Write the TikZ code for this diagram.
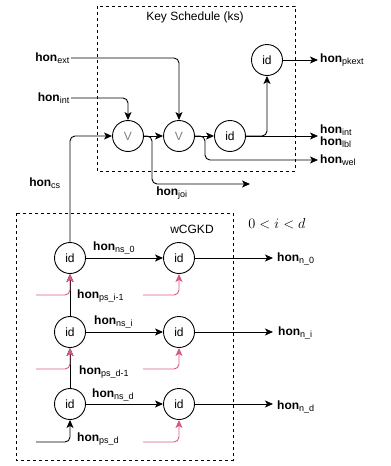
\documentclass[tikz,border=0pt]{standalone}
\usepackage{fontspec}
\setmainfont{Liberation Sans}
\usetikzlibrary{arrows.meta}
\definecolor{pinkline}{RGB}{214,88,138}
\newcommand\hon[1]{\textbf{hon}\textsubscript{\fontsize{9}{10}\selectfont #1}}
\begin{document}
\begin{tikzpicture}[x=1pt,y=-1pt,
  font=\fontsize{12}{14}\selectfont,
  op/.style={draw,circle,minimum size=31pt,inner sep=0pt,line width=0.9pt},
  conn/.style={line width=0.9pt,rounded corners=5pt},
  arr/.style={conn,-{Stealth[length=8pt,width=7pt,inset=2pt]}},
  parr/.style={arr,draw=pinkline,-{Stealth[length=8pt,width=7pt,inset=2pt,fill=pinkline]}},
  frame/.style={draw,line width=0.8pt,dash pattern=on 3pt off 3pt},
  lbl/.style={inner sep=1pt,align=left}]
\useasboundingbox (0,0) rectangle (391,466);
% frames
\draw[frame] (97,6) rectangle (295,171);
\draw[frame] (16,213) rectangle (233,460);
\node (kstitle) at (195,17) {Key Schedule (ks)};
\node (wtitle) at (192,229) {wCGKD};
\node (cond) at (277,224) {\fontsize{14.5}{16}\selectfont $0<i<d$};
% key schedule nodes
\node[op,text=gray] (V1) at (128,136) {V};
\node[op,text=gray] (V2) at (179,136) {V};
\node[op] (idA) at (230,136) {id};
\node[op] (idT) at (267,60) {id};
% input labels
\node[lbl,anchor=east] (ext) at (71,58) {\hon{ext}};
\node[lbl,anchor=east] (int) at (71,98) {\hon{int}};
\node[lbl] (cs) at (45,183) {\hon{cs}};
% outputs
\coordinate (pkEnd) at (318,60);
\coordinate (outEnd) at (318,136);
\coordinate (welEnd) at (318,160);
\coordinate (joiEnd) at (250,184);
\coordinate (j1) at (152,136);
\coordinate (j2) at (205,136);
\node[lbl,anchor=west] (pk) at (319,60) {\hon{pkext}};
\node[lbl,anchor=west] (intlbl) at (319,136) {\hon{int}\\[-2pt]\hon{lbl}};
\node[lbl,anchor=west] (wel) at (319,160) {\hon{wel}};
\node[lbl] (joi) at (172,193) {\hon{joi}};
% connectors in key schedule
\draw[arr] (ext.east) -| (V2.north);
\draw[arr] (int.east) -| (V1.north);
\draw[arr] (V1) -- (V2);
\draw[arr] (V1.east) -- (j1) |- (joiEnd);
\draw[arr] (V2) -- (idA);
\draw[arr] (V2.east) -- (j2) |- (welEnd);
\draw[arr] (idA) -- (outEnd);
\draw[arr] (idA.east) -| (idT.south);
\draw[arr] (idT) -- (pkEnd);
% wCGKD nodes
\node[op] (L0) at (70,258) {id};
\node[op] (R0) at (179,258) {id};
\node[op] (Li) at (70,332) {id};
\node[op] (Ri) at (179,332) {id};
\node[op] (Ld) at (70,404) {id};
\node[op] (Rd) at (179,404) {id};
\draw[arr] (L0.north) |- (V1.west);
\coordinate (n0End) at (273,258);
\coordinate (niEnd) at (273,332);
\coordinate (ndEnd) at (273,404);
\node[lbl,anchor=west] (n0) at (276,259) {\hon{n\_0}};
\node[lbl,anchor=west] (ni) at (277,333) {\hon{n\_i}};
\node[lbl,anchor=west] (nd) at (276,407) {\hon{n\_d}};
\node[lbl,anchor=west] (ns0) at (92,248) {\hon{ns\_0}};
\node[lbl,anchor=west] (nsi) at (93,322) {\hon{ns\_i}};
\node[lbl,anchor=west] (nsd) at (91,395) {\hon{ns\_d}};
\node[lbl,anchor=west] (psi) at (76,296) {\hon{ps\_i-1}};
\node[lbl,anchor=west] (psd1) at (78,372) {\hon{ps\_d-1}};
\node[lbl,anchor=west] (psd) at (76,439) {\hon{ps\_d}};
\draw[arr] (L0) -- (R0);
\draw[arr] (Li) -- (Ri);
\draw[arr] (Ld) -- (Rd);
\draw[arr] (R0) -- (n0End);
\draw[arr] (Ri) -- (niEnd);
\draw[arr] (Rd) -- (ndEnd);
\draw[arr] (Li.north) -- (L0.south);
\draw[arr] (Ld.north) -- (Li.south);
\coordinate (pdL) at (36,442);
\draw[arr] (pdL) -| (Ld.south);
% pink inputs
\coordinate (p0L) at (36,295);
\coordinate (p0R) at (143,295);
\coordinate (piL) at (36,369);
\coordinate (piR) at (143,369);
\coordinate (pdR) at (143,442);
\draw[parr] (p0L) -| (L0.south);
\draw[parr] (p0R) -| (R0.south);
\draw[parr] (piL) -| (Li.south);
\draw[parr] (piR) -| (Ri.south);
\draw[parr] (pdR) -| (Rd.south);
\end{tikzpicture}
\end{document}
